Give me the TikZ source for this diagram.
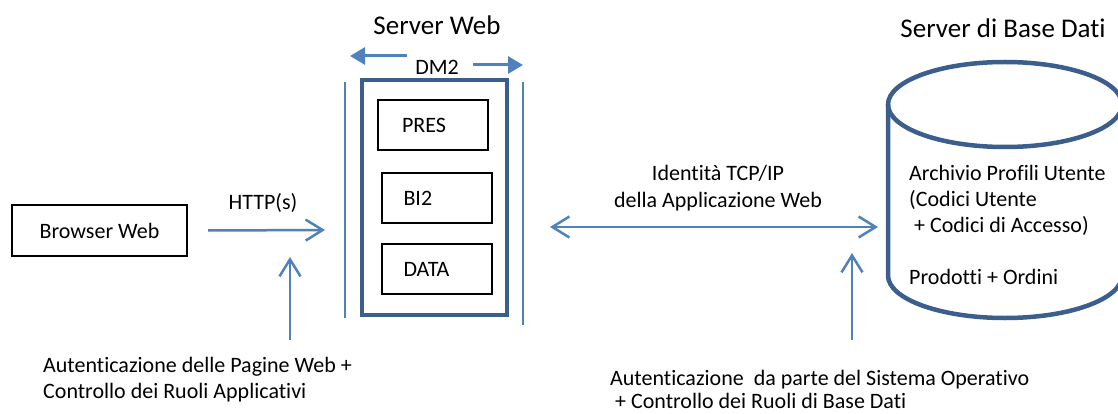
\documentclass[tikz,border=0pt]{standalone}
\usepackage{fontspec}
\setmainfont{Carlito}[Ligatures=NoCommon]
\usetikzlibrary{arrows.meta}
\definecolor{lineblue}{HTML}{4F81BD}
\definecolor{frameblue}{HTML}{3B5E8C}

\begin{document}
\begin{tikzpicture}[x=1pt,y=-1pt,
	txt/.style={font=\fontsize{22}{26}\selectfont, inner sep=0pt},
	title/.style={font=\fontsize{27}{32}\selectfont, inner sep=0pt},
	box/.style={draw, line width=2pt, font=\fontsize{22}{26}\selectfont},
	layer/.style={box, minimum height=50pt, text width=66pt, inner xsep=22pt, align=left},
	barb/.tip={Straight Barb[length=17pt,width=21pt,line width=2.5pt]},
	link/.style={draw=lineblue, line width=2.5pt, -barb},
	wall/.style={draw=lineblue, line width=2.5pt},
	dmarrow/.style={draw=lineblue, line width=3pt, -{Triangle[length=15pt,width=17pt]}},
	frame/.style={draw=frameblue, line width=4.5pt}]
	\useasboundingbox (0,0) rectangle (1118,414);
	\clip (0,0) rectangle (1118,414);
	% browser
	\node[box, minimum width=175pt, minimum height=51pt] (browser) at (99.5,230.5) {Browser Web};
	\node[txt] (http) at (263,203) {HTTP(s)};
	\coordinate (httpend) at (325,230);
	\draw[link] ([xshift=20pt]browser.east) -- (httpend);
	\node[txt, align=left, anchor=west] (auth1) at (43,379.5) {Autenticazione delle Pagine Web +\\Controllo dei Ruoli Applicativi};
	\coordinate (auth1top) at (290,257);
	\draw[link] (290,340) -- (auth1top);
	% server web
	\node[title] (sweb) at (437,25) {Server Web};
	\node[txt] (dm) at (437,67) {DM2};
	\draw[dmarrow] (407,56) -- (350,56);
	\draw[dmarrow] (473,65) -- (523,65);
	\draw[wall] (345,82) -- (345,318);
	\draw[wall] (523,82) -- (523,325);
	\node[frame, minimum width=145pt, minimum height=235pt] (web) at (434.5,197.5) {};
	\node[layer, inner xsep=24pt, text width=62pt] (pres) at (433,125) {PRES};
	\node[layer] (bi) at (436.5,198) {BI2};
	\node[layer] (data) at (436.5,269) {DATA};
	% tcp/ip
	\node[txt, align=center] (tcp) at (718,188.5) {Identità TCP/IP\\[1pt]della Applicazione Web};
	\coordinate (tcpa) at (550,227);
	\coordinate (tcpb) at (878,227);
	\draw[link, barb-barb] (tcpa) -- (tcpb);
	\node[txt, align=left, anchor=west, font=\fontsize{22}{23}\selectfont] (auth2) at (610,389) {Autenticazione\ \ da parte del Sistema Operativo\\\ + Controllo dei Ruoli di Base Dati};
	\coordinate (auth2top) at (852,253);
	\draw[link] (852,340) -- (auth2top);
	% server di base dati
	\node[title] (sdb) at (1003,28) {Server di Base Dati};
	\draw[frame] (1005,104.5) ellipse [x radius=117, y radius=42.5];
	\draw[frame] (888,104.5) -- (888,275.5) arc[start angle=180, end angle=0, x radius=117, y radius=42.5] -- (1122,104.5);
	\node[txt, align=left, anchor=west] (db) at (909,224.5) {Archivio Profili Utente\\(Codici Utente\\\ + Codici di Accesso)\\[26pt]Prodotti + Ordini};
\end{tikzpicture}
\end{document}
